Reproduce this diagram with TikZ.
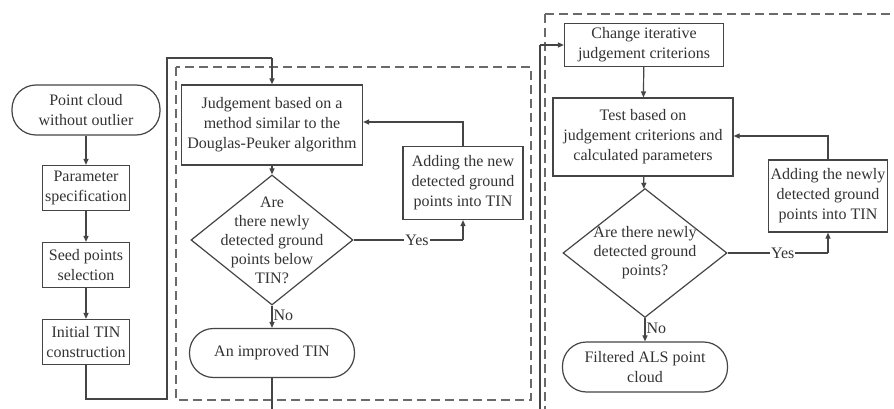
\documentclass[tikz,border=0pt]{standalone}
\usepackage{fontspec}
\setmainfont{Liberation Serif}
\definecolor{lineColor}{HTML}{454545}
\definecolor{textColor}{HTML}{333333}
\definecolor{dashColor}{HTML}{6a6a6a}
\usetikzlibrary{arrows.meta,shapes.geometric}

\begin{document}
\begin{tikzpicture}
\tikzset{x=1pt,y=-1pt}
\tikzset{
  stepbox/.style={draw=lineColor, line width=1.2pt, fill=white, text=textColor, align=center, inner sep=0pt, font=\fontsize{16}{20}\selectfont},
  termbox/.style={stepbox, rounded corners=24pt},
  decision/.style={draw=lineColor, line width=1.2pt, fill=white, diamond, inner sep=0pt},
  dectext/.style={text=textColor, align=center, inner sep=0pt, font=\fontsize{16}{19}\selectfont},
  flow/.style={draw=lineColor, line width=1.2pt, -{Triangle[length=6pt,width=5pt]}},
  wire/.style={draw=lineColor, line width=1.2pt},
  lbl/.style={text=textColor, inner sep=1pt, font=\fontsize{16}{20}\selectfont},
  frame/.style={draw=dashColor, line width=1.4pt, dash pattern=on 9pt off 5pt}
}
\useasboundingbox (0,0) rectangle (894,409);
\fill[white] (0,0) rectangle (894,409);
% dashed frames
\draw[frame] (176,67) rectangle (531,400);
\draw[frame] (545,14) -- (900,14);
\draw[frame] (545,14) -- (545,415);
% left column
\node[termbox, minimum width=148pt, minimum height=50pt] (cloud) at (86,110) {Point cloud\\without outlier};
\node[stepbox, minimum width=87pt, minimum height=45pt] (param) at (86,188) {Parameter\\specification};
\node[stepbox, minimum width=87pt, minimum height=45pt] (seed) at (86,265) {Seed points\\selection};
\node[stepbox, minimum width=87pt, minimum height=45pt] (initTin) at (86,342) {Initial TIN\\construction};
\draw[flow] (cloud) -- (param);
\draw[flow] (param) -- (seed);
\draw[flow] (seed) -- (initTin);
% first iteration
\node[stepbox, minimum width=181pt, minimum height=80pt] (judge) at (272,125) {Judgement based on a\\method similar to the\\Douglas-Peuker algorithm};
\node[decision, minimum width=162pt, minimum height=130pt] (askOne) at (272,240) {};
\node[dectext] (askOneText) at (askOne) {Are\\there newly\\detected ground\\points below\\TIN?};
\node[termbox, minimum width=165pt, minimum height=49pt] (improved) at (272,353) {An improved TIN};
\node[stepbox, minimum width=120pt, minimum height=73pt] (addOne) at (463,183) {Adding the new\\detected ground\\points into TIN};
\coordinate (turnA) at (86,399);
\coordinate (turnB) at (167,399);
\coordinate (turnC) at (167,58);
\coordinate (turnD) at (272,58);
\draw[wire] (initTin.south) -- (turnA) -- (turnB) -- (turnC) -- (turnD);
\draw[flow] (turnD) -- (judge.north);
\draw[flow] (judge) -- (askOne);
\draw[flow] (askOne) -- node[lbl, right, pos=0.45] (noOne) {No} (improved);
\draw[wire] (askOne.east) -- node[lbl, fill=white, pos=0.58] (yesOne) {Yes} (askOne.east -| addOne.south);
\draw[flow] (askOne.east -| addOne.south) -- (addOne.south);
\draw[flow] (addOne.north) |- (judge.east |- 0,122);
\coordinate (outOne) at (272,412);
\draw[wire] (improved.south) -- (outOne);
% second iteration
\node[stepbox, minimum width=159pt, minimum height=43pt] (change) at (644,45) {Change iterative\\judgement criterions};
\node[stepbox, minimum width=180pt, minimum height=78pt] (test) at (643,137) {Test based on\\judgement criterions and\\calculated parameters};
\node[decision, minimum width=164pt, minimum height=129pt] (askTwo) at (645,253) {};
\node[dectext] (askTwoText) at (askTwo) {Are there newly\\detected ground\\points?};
\node[termbox, minimum width=165pt, minimum height=50pt] (filtered) at (645,367) {Filtered ALS point\\cloud};
\node[stepbox, minimum width=119pt, minimum height=72pt] (addTwo) at (828,196) {Adding the newly\\detected ground\\points into TIN};
\coordinate (inTwo) at (540,412);
\coordinate (upTwo) at (540,45);
\draw[wire] (inTwo) -- (upTwo);
\draw[flow] (upTwo) -- (change.west);
\draw[flow] (change) -- (test);
\draw[flow] (test) -- (askTwo);
\draw[flow] (askTwo) -- node[lbl, right, pos=0.45] (noTwo) {No} (filtered);
\draw[wire] (askTwo.east) -- node[lbl, fill=white, pos=0.55] (yesTwo) {Yes} (askTwo.east -| addTwo.south);
\draw[flow] (askTwo.east -| addTwo.south) -- (addTwo.south);
\draw[flow] (addTwo.north) |- (test.east |- 0,136);
\end{tikzpicture}
\end{document}
